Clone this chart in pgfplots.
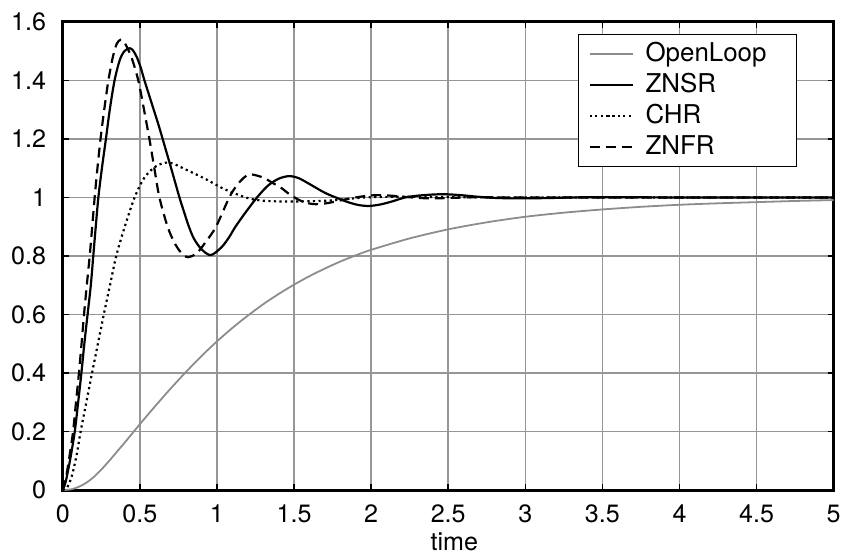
\documentclass[border=0pt]{standalone}
\usepackage{fontspec}
\setmainfont{TeX Gyre Heros}
\usepackage{pgfplots}
\pgfplotsset{compat=1.18}

\definecolor{openloopgray}{RGB}{140,140,140}
\definecolor{gridgray}{RGB}{150,150,150}

\begin{document}
\fontsize{12.6bp}{15bp}\selectfont
\begin{tikzpicture}
\begin{axis}[
  name=ax,
  scale only axis,
  width=387bp, height=235bp,
  xmin=0, xmax=5, ymin=0, ymax=1.6,
  xtick={0,0.5,1,1.5,2,2.5,3,3.5,4,4.5,5},
  ytick={0,0.2,0.4,0.6,0.8,1,1.2,1.4,1.6},
  /pgf/number format/assume math mode=true,
  ticklabel style={font=\fontsize{12.6bp}{15bp}\selectfont},
  xticklabel style={yshift=-3bp},
  yticklabel style={xshift=-4bp},
  tick align=inside,
  major tick length=3bp,
  tick style={line width=0.75bp, black},
  grid=major,
  major grid style={line width=0.75bp, draw=gridgray},
  axis line style={line width=1.5bp},
  xlabel={time},
  xlabel style={at={(axis description cs:0.508,-0.0736)}, anchor=north,
                font=\fontsize{12.6bp}{15bp}\selectfont},
  legend style={at={(axis description cs:0.953,0.974)}, anchor=north east,
                draw=black, line width=0.5bp, inner xsep=5bp,
                font=\fontsize{13bp}{15bp}\selectfont},
  legend cell align=left,
  /tikz/every odd column/.append style={column sep=4bp},
  legend image code/.code={\draw[#1] plot coordinates {(0cm,0cm) (0.38cm,0cm) (0.758cm,0cm)};},
]

% open-loop step response
\addplot[color=openloopgray, line width=0.9bp, smooth] coordinates {
  (0,0) (0.05,0.002) (0.1,0.01) (0.15,0.024) (0.2,0.044) (0.25,0.07)
  (0.3,0.099) (0.35,0.13) (0.4,0.161) (0.45,0.193) (0.5,0.225)
  (0.6,0.287) (0.7,0.347) (0.8,0.404) (0.9,0.458) (1.0,0.508)
  (1.1,0.554) (1.2,0.596) (1.3,0.635) (1.4,0.67) (1.5,0.702)
  (1.6,0.731) (1.7,0.757) (1.8,0.781) (1.9,0.802) (2.0,0.821)
  (2.25,0.86) (2.5,0.891) (2.75,0.915) (3.0,0.934) (3.25,0.948)
  (3.5,0.959) (3.75,0.968) (4.0,0.975) (4.25,0.98) (4.5,0.984)
  (4.75,0.988) (5.0,0.991)
};
\addlegendentry{\makebox[69bp][l]{OpenLoop}}

% Ziegler-Nichols, step response tuning
\addplot[black, line width=1.1bp, smooth, tension=0.5] coordinates {
  (0,0) (0.02,0.03) (0.05,0.11) (0.078,0.2) (0.1,0.3) (0.121,0.4)
  (0.14,0.5) (0.161,0.6) (0.182,0.7) (0.198,0.8) (0.214,0.9) (0.231,1.0)
  (0.254,1.1) (0.28,1.2) (0.305,1.3) (0.336,1.4) (0.37,1.47) (0.40,1.50)
  (0.433,1.51) (0.455,1.503) (0.48,1.48) (0.505,1.445) (0.53,1.40)
  (0.56,1.35) (0.59,1.30) (0.62,1.25) (0.648,1.2) (0.703,1.1)
  (0.757,1.0) (0.787,0.95) (0.815,0.905) (0.85,0.86) (0.90,0.823)
  (0.96,0.803) (1.03,0.83) (1.08,0.865) (1.12,0.9) (1.19,0.952)
  (1.26,1.0) (1.33,1.04) (1.40,1.064) (1.468,1.073) (1.53,1.066)
  (1.6,1.046) (1.7,1.016) (1.78,0.998) (1.85,0.984) (1.92,0.974)
  (1.986,0.971) (2.06,0.976) (2.14,0.987) (2.22,1.0) (2.3,1.006)
  (2.4,1.010) (2.48,1.011) (2.58,1.008) (2.68,1.003) (2.78,0.999)
  (2.9,0.997) (3.0,0.997) (3.15,0.998) (3.3,1.0) (3.5,1.001) (4,1.0)
  (4.5,1.0) (5,1.0)
};
\addlegendentry{ZNSR}

% Chien-Hrones-Reswick tuning
\addplot[black, line width=1.1bp, dash pattern=on 1.1bp off 1.7bp, smooth, tension=0.5] coordinates {
  (0,0) (0.03,0.01) (0.06,0.05) (0.09,0.12) (0.116,0.2) (0.153,0.3)
  (0.19,0.4) (0.228,0.5) (0.266,0.6) (0.304,0.694) (0.347,0.8)
  (0.401,0.898) (0.466,1.0) (0.53,1.068) (0.606,1.107) (0.692,1.119)
  (0.82,1.09) (0.93,1.062) (1.03,1.033) (1.10,1.017) (1.17,1.003)
  (1.23,0.994) (1.32,0.988) (1.45,0.986) (1.6,0.987) (1.75,0.99)
  (1.85,0.995) (1.96,1.0) (2.1,1.002) (2.3,1.002) (2.6,1.001) (3,1.0)
  (4,1.0) (5,1.0)
};
\addlegendentry{CHR}

% Ziegler-Nichols, frequency response tuning
\addplot[black, line width=1.1bp, dash pattern=on 5bp off 3bp, smooth, tension=0.5] coordinates {
  (0,0) (0.02,0.04) (0.045,0.12) (0.067,0.2) (0.086,0.3) (0.105,0.4)
  (0.122,0.5) (0.138,0.6) (0.156,0.7) (0.175,0.8) (0.191,0.9)
  (0.207,1.0) (0.225,1.1) (0.245,1.2) (0.269,1.3) (0.296,1.4)
  (0.325,1.48) (0.35,1.525) (0.375,1.539) (0.40,1.53) (0.445,1.48)
  (0.49,1.4) (0.527,1.3) (0.562,1.2) (0.594,1.1) (0.627,1.0)
  (0.68,0.9) (0.725,0.845) (0.765,0.813) (0.81,0.796) (0.87,0.81)
  (0.93,0.85) (0.994,0.9) (1.08,1.0) (1.13,1.042) (1.18,1.07)
  (1.22,1.079) (1.30,1.068) (1.36,1.05) (1.414,1.034) (1.46,1.015)
  (1.51,0.998) (1.57,0.983) (1.64,0.977) (1.72,0.981) (1.8,0.99)
  (1.9,1.0) (1.98,1.006) (2.05,1.008) (2.13,1.006) (2.22,1.002)
  (2.32,0.998) (2.42,0.997) (2.55,0.999) (2.7,1.001) (2.9,1.0)
  (3.5,1.0) (4,1.0) (5,1.0)
};
\addlegendentry{ZNFR}
\end{axis}
% page margins around the axis box
\path ([xshift=-31.5bp,yshift=-34.5bp]ax.south west) rectangle ([xshift=6bp,yshift=11bp]ax.north east);
\end{tikzpicture}
\end{document}
